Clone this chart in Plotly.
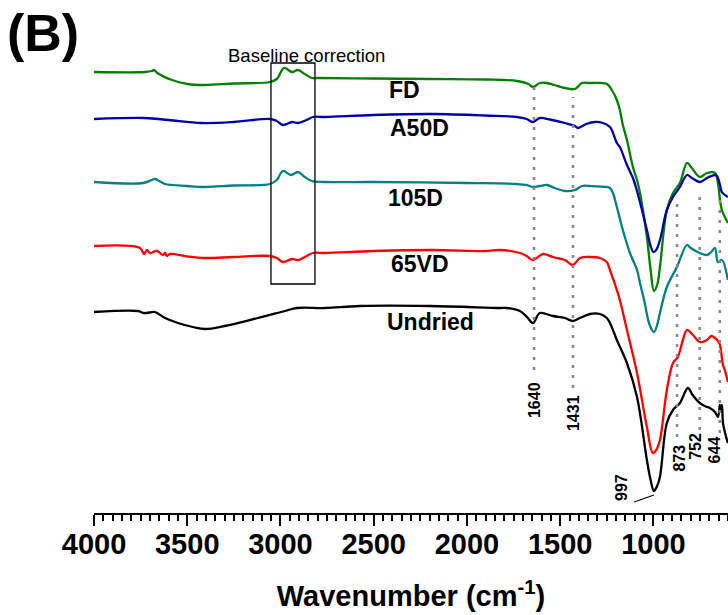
import plotly.graph_objects as go

# FTIR spectra (offset transmittance, a.u.) of the dried samples
fd_wn = [4000, 3727, 3690, 3678, 3660, 3582, 3500, 3405, 3250, 3056, 3020, 2981, 2938, 2906,
         2870, 2831, 2800, 2500, 2200, 1900, 1732, 1670, 1646, 1609, 1571, 1530, 1475, 1421,
         1383, 1340, 1249, 1223, 1196, 1180, 1164, 1142, 1110, 1088, 1072, 1035, 1015, 997,
         980, 965, 928, 895, 858, 820, 794, 751, 713, 670, 654, 643, 633, 601]
fd_val = [441, 441, 442, 443, 440, 433, 429, 428, 429.5, 431, 434, 445, 441, 443,
          439, 435, 435, 434.5, 434, 433.5, 432, 429, 426, 430, 430, 428, 425, 424,
          430, 430, 429, 423, 413, 403, 388, 373, 346, 333, 320, 276, 243, 222,
          228, 246, 303, 320, 330, 350, 345, 336, 340, 340, 330, 313, 303, 290]

a50d_wn = [4000, 3727, 3600, 3421, 3250, 3056, 3020, 2987, 2938, 2906, 2860, 2826, 2761, 2500,
           2182, 1900, 1732, 1680, 1646, 1609, 1555, 1475, 1421, 1405, 1360, 1314, 1271, 1233,
           1223, 1196, 1180, 1142, 1110, 1088, 1035, 1015, 1000, 985, 965, 928, 895, 858,
           820, 794, 751, 713, 670, 659, 643, 633, 601]
a50d_val = [394, 395, 393, 390, 391, 394, 392, 388, 391, 390, 393, 396, 396, 398,
            399, 397.5, 396, 394, 391, 395, 393.5, 390, 387, 385, 389, 391, 390, 386,
            383, 370, 366, 348, 335, 322, 283, 267, 261, 263, 273, 303, 316, 326,
            338, 335, 331, 335, 338, 337, 328, 321, 316]

d105_wn = [4000, 3737, 3690, 3673, 3640, 3619, 3500, 3405, 3250, 3056, 3020, 2987, 2944, 2906,
           2870, 2831, 2761, 2500, 2000, 1732, 1680, 1646, 1609, 1571, 1530, 1475, 1421, 1383,
           1340, 1249, 1233, 1217, 1196, 1164, 1126, 1088, 1072, 1050, 1020, 997, 980, 965,
           928, 874, 820, 800, 751, 713, 690, 670, 654, 633, 601]
d105_val = [331, 330, 333, 334, 331, 329, 327, 326, 327.5, 329, 333, 342, 338, 341,
            336, 332, 331, 331, 330, 329, 328, 326, 327, 328, 325, 322, 323, 327,
            327, 326, 325, 320, 306, 283, 260, 243, 230, 213, 188, 181, 188, 200,
            226, 246, 268, 265, 260, 258, 261, 265, 251, 253, 233]

vd65_wn = [4000, 3753, 3732, 3716, 3700, 3662, 3630, 3619, 3609, 3592, 3500, 3405, 3250, 3056,
           3020, 2987, 2938, 2906, 2870, 2826, 2761, 2500, 2182, 1900, 1823, 1716, 1680, 1646,
           1592, 1539, 1475, 1432, 1394, 1340, 1287, 1250, 1233, 1196, 1180, 1142, 1088, 1035,
           1003, 985, 965, 928, 895, 869, 842, 820, 788, 751, 713, 690, 670, 654, 643, 627,
           617, 601]
vd65_val = [267, 265, 259, 263, 260, 262, 258, 260, 257, 259, 256.5, 255, 256, 257,
            255, 251, 254, 253, 256, 260, 260, 262, 263, 262, 263, 260, 257, 253,
            259, 256, 253, 248, 255, 256, 255, 251, 243, 223, 213, 183, 140, 86,
            60, 63, 73, 123, 150, 156, 173, 183, 178, 171, 173, 177, 175, 172, 168, 148,
            143, 131]

undried_wn = [4000, 3764, 3732, 3700, 3673, 3619, 3550, 3470, 3405, 3300, 3121, 2976, 2912, 2761,
              2574, 2200, 1823, 1786, 1716, 1678, 1646, 1609, 1539, 1475, 1432, 1394, 1340, 1287,
              1250, 1233, 1196, 1142, 1088, 1035, 1015, 997, 980, 965, 928, 895, 858, 815,
              790, 751, 725, 697, 670, 654, 644, 643, 633, 627, 617, 601]
undried_val = [201, 202, 200, 200.5, 201, 195, 190, 186, 184, 187, 195, 202, 205, 205,
               207, 207, 205, 205, 202, 196, 190, 200, 197, 195, 192, 195, 199, 199,
               195, 190, 173, 150, 116, 53, 33, 22, 27, 36, 90, 103, 110, 125,
               118, 110, 107, 105, 101, 96, 108, 101, 108, 90, 81, 70]

series_names = ["FD", "A50D", "105D", "65VD", "Undried"]
series_colors = ["#008000", "#0000a8", "#008080", "#ff0000", "#000000"]
series_wn = [fd_wn, a50d_wn, d105_wn, vd65_wn, undried_wn]
series_val = [fd_val, a50d_val, d105_val, vd65_val, undried_val]

# label anchor (wavenumber, value) for each spectrum name
label_wn = [2429, 2424, 2434, 2418, 2440]
label_val = [423, 385.5, 315.5, 249.5, 191.5]

# assigned bands: position, dotted guide extent, label position
band_wn = [1640, 1431, 873, 752, 644]
band_top = [433, 416, 316, 321, 320]
band_bottom = [143, 125, 76, 83, 80]
band_label_wn = [1640, 1431, 865, 778, 673]
band_label_val = [113, 100, 55, 67, 63]
peak_wn = 997
peak_label = (1174, 26)
peak_leader = ((1103, 11), (997, 18))

# region where the baseline was corrected
box_wn = (3051, 2815)
box_val = (229, 450)
box_title_pos = (2863, 458)

x_ticks = [4000, 3500, 3000, 2500, 2000, 1500, 1000]

FONT = "Liberation Sans"

fig = go.Figure()
for name, color, wn, val in zip(series_names, series_colors, series_wn, series_val):
    fig.add_trace(go.Scatter(x=wn, y=val, mode="lines", name=name,
                             line=dict(color=color, width=2.3), line_shape="spline",
                             showlegend=False, hoverinfo="skip"))

for name, x, y in zip(series_names, label_wn, label_val):
    fig.add_annotation(x=x, y=y, text=f"<b>{name}</b>", showarrow=False,
                       xanchor="left", yanchor="middle",
                       font=dict(family=FONT, size=23, color="black"))

for wn, top, bot in zip(band_wn, band_top, band_bottom):
    fig.add_shape(type="line", x0=wn, x1=wn, y0=bot, y1=top, xref="x", yref="y",
                  line=dict(color="#888888", width=2.5, dash="3px,7px"))

for wn, x, y in zip(band_wn, band_label_wn, band_label_val):
    fig.add_annotation(x=x, y=y, text=f"<b>{wn}</b>", showarrow=False, textangle=-90,
                       xanchor="center", yanchor="middle",
                       font=dict(family=FONT, size=16, color="black"))

fig.add_annotation(x=peak_label[0], y=peak_label[1], text=f"<b>{peak_wn}</b>",
                   showarrow=False, textangle=-90, xanchor="center", yanchor="middle",
                   font=dict(family=FONT, size=16, color="black"))
fig.add_shape(type="line", x0=peak_leader[0][0], y0=peak_leader[0][1],
              x1=peak_leader[1][0], y1=peak_leader[1][1], xref="x", yref="y",
              line=dict(color="black", width=1.2))

fig.add_shape(type="rect", x0=box_wn[0], x1=box_wn[1], y0=box_val[0], y1=box_val[1],
              xref="x", yref="y", line=dict(color="black", width=1.3))
fig.add_annotation(x=box_title_pos[0], y=box_title_pos[1], text="Baseline correction",
                   showarrow=False, xanchor="center", yanchor="middle",
                   font=dict(family=FONT, size=18.5, color="black"))

fig.add_annotation(x=-0.0805, y=0.936, xref="paper", yref="paper", text="<b>(B)</b>",
                   showarrow=False, xanchor="center", yanchor="middle",
                   font=dict(family=FONT, size=52, color="black"))

fig.update_layout(
    width=728, height=615,
    margin=dict(l=94, r=0, t=0, b=102),
    paper_bgcolor="white", plot_bgcolor="white",
    xaxis=dict(range=[4000, 600], autorange=False, tickvals=x_ticks,
               ticks="outside", ticklen=11, tickwidth=2, tickcolor="black",
               showline=True, linecolor="black", linewidth=2, showgrid=False, zeroline=False,
               minor=dict(dtick=50, tick0=0, ticks="outside", ticklen=6, tickwidth=1.5,
                          tickcolor="black", showgrid=False),
               ticklabelposition="outside", ticklabelstandoff=-7,
               tickfont=dict(family=FONT, size=29, color="black", weight="bold"),
               title=dict(text="<b>Wavenumber (cm<sup>-1</sup>)</b>", standoff=27,
                          font=dict(family=FONT, size=29, color="black"))),
    yaxis=dict(range=[0, 513], autorange=False, visible=False, showgrid=False, zeroline=False),
)

fig.write_html("out.html")
